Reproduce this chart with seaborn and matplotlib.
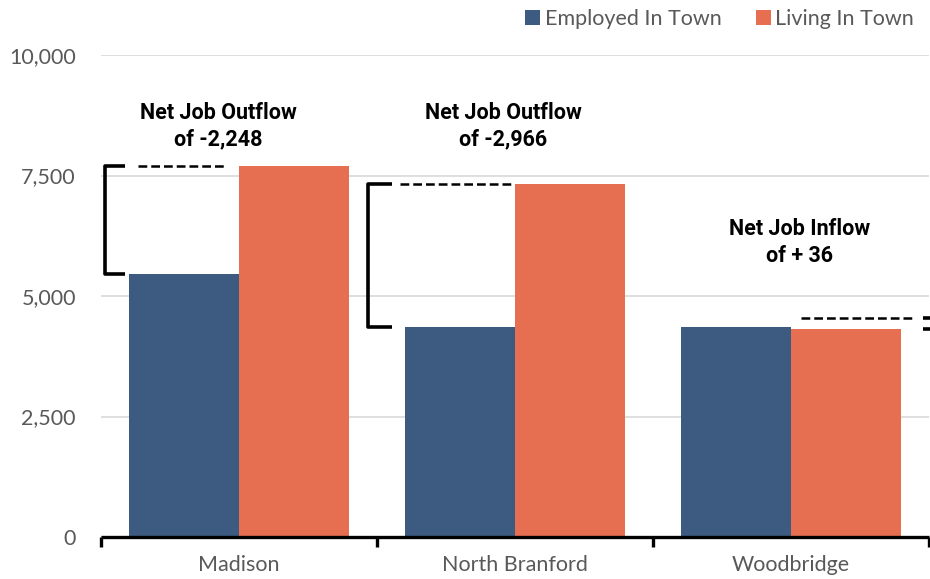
import matplotlib
matplotlib.use("Agg")
import matplotlib.pyplot as plt
import seaborn as sns
import pandas as pd

# Commuting balance by town
towns = ["Madison", "North Branford", "Woodbridge"]
employed_in_town = [5452, 4360, 4350]
living_in_town = [7700, 7326, 4314]
series_names = ["Employed In Town", "Living In Town"]
net_labels = ["Net Job Outflow\nof -2,248", "Net Job Outflow\nof -2,966", "Net Job Inflow\nof + 36"]
y_ticks = [0, 2500, 5000, 7500, 10000]

BLUE = "#3D5A80"
ORANGE = "#E76F51"
GREY = "#595959"

df = pd.DataFrame({
    "town": towns * 2,
    "series": [series_names[0]] * 3 + [series_names[1]] * 3,
    "value": employed_in_town + living_in_town,
})

sns.set_style("white")
plt.rcParams["font.family"] = ["Lato", "DejaVu Sans"]

fig = plt.figure(figsize=(9.30, 5.79), dpi=100)
ax = fig.add_axes([0.1086, 0.0725, 0.8904, 0.8325])

sns.barplot(data=df, x="town", y="value", hue="series", order=towns,
            hue_order=series_names, palette=[BLUE, ORANGE], width=0.8,
            saturation=1, linewidth=0, ax=ax, legend=True)

ax.set_xlim(-0.5, 2.5)
ax.set_ylim(0, 10000)
ax.set_yticks(y_ticks)
ax.set_yticklabels([f"{v:,}" for v in y_ticks])
ax.yaxis.grid(True, color="#D9D9D9", linewidth=1.2)
ax.set_axisbelow(True)
ax.set_xlabel("")
ax.set_ylabel("")

for side in ["left", "right", "top"]:
    ax.spines[side].set_visible(False)
ax.spines["bottom"].set_color("black")
ax.spines["bottom"].set_linewidth(2.4)
ax.spines["bottom"].set_capstyle("butt")

ax.tick_params(axis="y", length=0, pad=18, labelsize=15.5, labelcolor=GREY)
ax.tick_params(axis="x", which="major", bottom=False, length=0, pad=13,
               labelsize=15.5, labelcolor=GREY)
ax.set_xticks([-0.5, 0.5, 1.5, 2.5], minor=True)
ax.tick_params(axis="x", which="minor", bottom=True, length=7, width=2.4,
               color="black", direction="out")

# Brackets and dashed guides marking the gap between the two bars
def bracket(x_vert, x_arm, top, bottom):
    ax.plot([x_arm, x_vert, x_vert, x_arm], [top, top, bottom, bottom],
            color="black", linewidth=2.6, solid_joinstyle="round",
            solid_capstyle="butt", clip_on=False, zorder=5)

def guide(x0, x1, y):
    ax.plot([x0, x1], [y, y], color="black", linewidth=1.8,
            linestyle=(0, (3.5, 1.6)), clip_on=False, zorder=5)

bracket(-0.486, -0.414, living_in_town[0], employed_in_town[0])
guide(-0.366, -0.045, living_in_town[0])

bracket(0.467, 0.553, living_in_town[1], employed_in_town[1])
guide(0.583, 0.99, living_in_town[1])

wb_top = 4540
bracket(2.56, 2.478, wb_top, living_in_town[2])
guide(2.035, 2.45, wb_top)

label_pos = [(-0.076, 8520), (0.957, 8520), (2.03, 6110)]
for (lx, ly), txt in zip(label_pos, net_labels):
    ax.text(lx, ly, txt, ha="center", va="center", fontsize=15.5,
            fontweight="bold", family=["Roboto", "DejaVu Sans"],
            linespacing=1.25, color="black", zorder=6)

leg = ax.legend(loc="upper right", bbox_to_anchor=(0.992, 1.0), bbox_transform=fig.transFigure,
                ncol=2, frameon=False, fontsize=15.5, handlelength=0.7,
                handleheight=0.7, handletextpad=0.2, columnspacing=1.6,
                borderaxespad=0.0)
for t in leg.get_texts():
    t.set_color(GREY)

fig.savefig("out.png", dpi=100)
